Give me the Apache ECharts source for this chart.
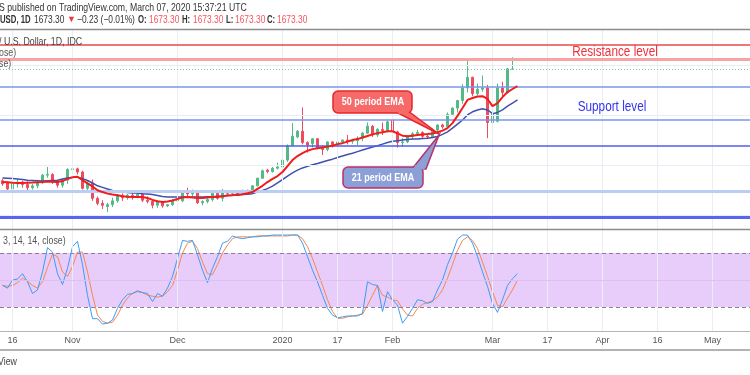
<!DOCTYPE html>
<html><head><meta charset="utf-8">
<script src="https://cdn.jsdelivr.net/npm/echarts@6/dist/echarts.min.js"></script>
<style>html,body{margin:0;padding:0;background:#fff}#c{width:750px;height:375px}</style>
</head><body><div id="c"></div>
<script>
const FONT = "'Liberation Sans',Arial,sans-serif";

// ---- data ----
const startDate = '2019-10-14';
const categoryCount = 150;
const holidays = ['2019-12-25', '2020-01-01'];
const tickLabels = [['2019-10-16','16'],['2019-11-01','Nov'],['2019-12-02','Dec'],['2020-01-02','2020'],['2020-01-17','17'],['2020-02-03','Feb'],['2020-03-02','Mar'],['2020-03-17','17'],['2020-04-01','Apr'],['2020-04-16','16'],['2020-05-01','May']];

const openP  = [1495,1492,1482,1490,1493,1489,1484,1487,1492,1504, 1505,1493,1488,1496,1513,1514,1509,1483,1491,1467, 1459,1454,1457,1463,1472,1468,1472,1471,1474,1464, 1462,1456,1462,1455,1457,1463,1463,1477,1474,1477, 1460,1462,1465,1475,1467,1476,1475,1476,1475,1479, 1478,1487,1499,1512,1510,1515,1517,1528,1551,1565, 1574,1556,1554,1562,1547,1545,1557,1552,1557,1560, 1558,1559,1563,1571,1582,1568,1577,1575,1592,1573, 1556,1557,1566,1570,1572,1566,1565,1576,1584,1581, 1601,1611,1623,1643,1660,1634,1641,1643,1588,1590, 1643,1636,1673.2];
const highP  = [1498,1494,1495,1498,1495,1494,1490,1495,1506,1517, 1507,1495,1499,1515,1517,1516,1511,1494,1497,1470, 1464,1460,1468,1474,1475,1474,1476,1478,1476,1470, 1463,1464,1462,1458,1466,1466,1479,1484,1481,1479, 1464,1467,1477,1479,1482,1478,1479,1478,1481,1481, 1488,1500,1513,1514,1517,1524,1530,1553,1587,1576, 1612,1558,1563,1563,1551,1558,1558,1561,1561,1568, 1562,1566,1573,1588,1584,1579,1588,1591,1596,1575, 1563,1568,1573,1576,1574,1570,1578,1585,1586,1604, 1612,1624,1649,1689,1661,1650,1663,1648,1610,1650, 1653,1675,1692];
const lowP   = [1487,1480,1480,1484,1484,1480,1481,1483,1490,1500, 1490,1484,1484,1490,1505,1505,1481,1479,1463,1456, 1450,1445,1453,1460,1463,1465,1465,1467,1461,1459, 1451,1452,1452,1453,1455,1454,1461,1470,1470,1458, 1456,1459,1462,1465,1462,1472,1472,1472,1472,1474, 1476,1486,1499,1507,1508,1513,1515,1525,1551,1563, 1553,1540,1548,1546,1536,1542,1548,1548,1555,1553, 1554,1552,1558,1570,1565,1565,1568,1572,1552,1548, 1549,1555,1561,1567,1562,1562,1563,1572,1578,1580, 1598,1604,1618,1636,1630,1631,1637,1563,1576,1588, 1630,1634,1673.2];
const closeP = [1490,1482,1490,1493,1489,1484,1487,1492,1504,1505, 1493,1488,1496,1513,1514,1509,1483,1491,1467,1459, 1456,1457,1463,1472,1468,1472,1471,1474,1464,1462, 1456,1462,1455,1457,1463,1464,1477,1474,1477,1460, 1462,1465,1475,1467,1476,1475,1476,1475,1479,1478, 1487,1499,1511,1510,1515,1517,1528,1551,1566,1574, 1556,1552,1562,1547,1545,1557,1552,1557,1560,1558, 1559,1563,1571,1582,1568,1577,1575,1589,1573,1556, 1557,1566,1570,1572,1566,1565,1576,1584,1581,1601, 1611,1623,1643,1660,1634,1641,1643,1588,1601,1643, 1636,1673.5,1673.3];

const ema50 = [1493,1492.6,1492,1491.5,1491.5,1492,1492.3,1492.8,1493,1494, 1493.5,1493,1494.5,1498,1500.5,1501.5,1496,1491,1486,1480, 1477,1474.5,1473,1472,1470.5,1469.5,1469,1469,1469,1467.5, 1464.5,1462.5,1461,1462,1463.5,1466,1468.5,1469,1468.5,1467.5, 1467.5,1468.5,1469,1469,1470.5,1471.5,1472,1473,1473.5,1475, 1477,1482,1487,1493,1498,1502.5,1509,1518.5,1528,1534.5, 1539,1543,1545.5,1547,1548,1549.5,1551,1553.5,1555,1557.5, 1560,1561.5,1564,1566.5,1569,1571,1572.5,1574,1574,1570.5, 1567,1566,1567,1568,1569,1569.5,1570.5,1572.5,1575,1579, 1587,1598.5,1611,1624,1627,1629.5,1630,1625.5,1614,1619, 1628.5,1636.5,1641.4,1646];
const ema21 = [1499.5,1499,1498.5,1498,1497,1496,1495.5,1495,1494.5,1495, 1495.5,1496,1498,1499.5,1500.5,1500.5,1498.5,1495.5,1491.5,1487, 1484.5,1482,1479.5,1478,1477,1476.5,1475.5,1475.5,1474.5,1474, 1473,1471.5,1470,1469,1469,1469,1469,1469,1469,1469, 1469,1469.5,1469.5,1470.5,1470.5,1471.5,1472,1472,1473,1473.5, 1474.5,1477,1479.5,1482.5,1486.5,1491.5,1497,1502.5,1507.5,1512, 1515.5,1518,1520.5,1522.5,1525,1527.5,1529.5,1532,1534.5,1537, 1539,1541.5,1544,1546.5,1549,1551,1553.5,1556,1558,1559, 1560,1561,1561.5,1561.5,1562.5,1563,1564,1565.5,1569,1573, 1579,1585.5,1592,1600,1605,1608,1610,1608,1602,1604, 1608,1614,1619,1624];

const stochK = [44,41,50,51,57,48,35,39,59,86, 81,57,45,63,87,93,67,33,7,7, 1,2,5.5,18.5,28,34,35,38,36,35, 26,35,32,41,54,74,94,93,94,78, 61,47,63,76,91,93,99,97,96,97, 98,98,99,99,100,100,100,100,100,100, 91,76,61,48,33,18.5,11,8,9,10, 10,10,13,48,45,44,15,37,28,22, 2,9.6,18.5,28,27,24,26,39,50,67, 80,95.5,100,100,91,76,59,43,24,14, 28,44,51.5,57];
const stochD = [44,43,44,47,52,48.5,44,41,48,64, 78.5,76,59,54,65,81,81,59,33,11, 4,2,3,11,22,30,35,37,36,33, 32,31,32,37,44,61,80,91,93,85, 70,57,56,67,80,89,96,98,98,98, 98,99,99,99,99,99,99,99,100,100, 96,87,74,59,44,28,15,7.4,7.4,9, 10,11,12,22,33,44,33,31,28,27, 17.8,11,10,18.5,23,25,27,31,39,52, 67,83,94,98,94,85,70,54,37,22, 20,30,39,50];

const resistanceLevels = [1711.6, 1689.2];
const lastPrice = 1673.3;
const supportLevels = [1644.6, 1592, 1550.5, 1478.7, 1437.3];
const priceGrid = [1440, 1520, 1600, 1680];
const stochBand = [20, 80];
const stochMid = 50;

// ---- build ----
function tradingDays(start, n, skip) {
  const out = []; const d = new Date(start + 'T00:00:00Z');
  while (out.length < n) {
    const wd = d.getUTCDay(); const s = d.toISOString().slice(0, 10);
    if (wd !== 0 && wd !== 6 && skip.indexOf(s) < 0) out.push(s);
    d.setUTCDate(d.getUTCDate() + 1);
  }
  return out;
}
const dates = tradingDays(startDate, categoryCount, holidays);
const candleData = openP.map((o, i) => [o, closeP[i], lowP[i], highP[i]]);
const tickMap = {}; tickLabels.forEach(t => tickMap[t[0]] = t[1]);
const tickIdx = new Set(tickLabels.map(t => dates.indexOf(t[0])));
const vLines = tickLabels.map(t => ({ xAxis: t[0] }));

const levelStyles = {
  r0: { color: '#e84848', width: 1.5 },
  r1: { color: '#f7a3a3', width: 3 },
  s: [{ color: '#7a96ee', width: 1.5 }, { color: '#7a96ee', width: 1.5 }, { color: '#4e5ef0', width: 1.5 }, { color: '#bccdf4', width: 3 }, { color: '#5666f0', width: 3 }]
};
const levelLines = [
  { yAxis: resistanceLevels[0], lineStyle: Object.assign({ type: 'solid' }, levelStyles.r0) },
  { yAxis: resistanceLevels[1], lineStyle: Object.assign({ type: 'solid' }, levelStyles.r1) },
  { yAxis: lastPrice, lineStyle: { color: '#7cc8a0', width: 1, type: [1, 2] } }
].concat(supportLevels.map((v, i) => ({ yAxis: v, lineStyle: Object.assign({ type: 'solid' }, levelStyles.s[i]) })));

function txt(x, y, text, opt, sx, z) {
  return { type: 'text', x: x, y: y, z: z || 50, silent: true, scaleX: sx || 0.8,
    style: Object.assign({ text: text, fontFamily: FONT, fontSize: 11, fill: '#444', textVerticalAlign: 'middle', textAlign: 'left' }, opt || {}) };
}
function hline(y, color, w) {
  return { type: 'line', z: 40, silent: true, shape: { x1: 0, y1: y, x2: 750, y2: y }, style: { stroke: color, lineWidth: w } };
}
const H2 = { fill: '#333', fontSize: 10.5 };
const H2B = { fill: '#333', fontSize: 10.5, fontWeight: 'bold' };
const H2R = { fill: '#f7525f', fontSize: 10.5 };

const graphics = [
  hline(29.5, '#8c8c8c', 1.5), hline(229.5, '#8c8c8c', 1.5), hline(331.5, '#b5b5b5', 1), hline(350, '#9a9a9a', 1.5),
  txt(-1, 7.5, 'S published on TradingView.com, March 07, 2020 15:37:21 UTC', { fill: '#333' }, 0.79),
  txt(0, 20, 'USD, 1D', H2B, 0.74),
  txt(34, 20, '1673.30', H2, 0.8),
  txt(67, 20, '\u25BC', { fill: '#f23645', fontSize: 9 }, 1),
  txt(77, 20, '\u22120.23 (\u22120.01%)', H2, 0.8),
  txt(138, 20, 'O:', H2B, 0.74), txt(149, 20, '1673.30', H2R, 0.8),
  txt(182, 20, 'H:', H2B, 0.74), txt(193, 20, '1673.30', H2R, 0.8),
  txt(226, 20, 'L:', H2B, 0.74), txt(235, 20, '1673.30', H2R, 0.8),
  txt(267, 20, 'C:', H2B, 0.74), txt(277, 20, '1673.30', H2R, 0.8),
  txt(-1, 41.5, '/ U.S. Dollar, 1D, IDC', { fill: '#444' }),
  txt(-1, 52.5, 'ose)', { fill: '#555' }),
  txt(-1, 64, 'se)', { fill: '#555' }),
  txt(3, 241, '3, 14, 14, close)', { fill: '#555' }),
  txt(-2, 362, 'View', { fill: '#444' }),
  txt(615, 52, 'Resistance level', { fill: '#f0303a', fontSize: 14, textAlign: 'center' }, 0.84),
  txt(612, 107, 'Support level', { fill: '#3434ee', fontSize: 14, textAlign: 'center' }, 0.84),
  // 50 period EMA callout
  { type: 'polygon', z: 60, silent: true, shape: { points: [[394, 111], [408, 111], [439, 134]] }, style: { fill: '#f76a6a', stroke: '#e8262b', lineWidth: 1.5 } },
  { type: 'rect', z: 61, silent: true, shape: { x: 333, y: 91, width: 79, height: 22, r: 5 }, style: { fill: '#f76a6a', stroke: '#e8262b', lineWidth: 1.5 } },
  { type: 'polygon', z: 62, silent: true, shape: { points: [[395.5, 110], [406.5, 110], [410, 114], [399, 114]] }, style: { fill: '#f76a6a' } },
  txt(373, 102, '50 period EMA', { fill: '#fff', fontWeight: 'bold', textAlign: 'center', fontSize: 11 }, 0.82, 70),
  // 21 period EMA callout
  { type: 'polygon', z: 60, silent: true, shape: { points: [[412, 169], [426, 169], [439, 135]] }, style: { fill: '#8c9fd6', stroke: '#b5326e', lineWidth: 1.5 } },
  { type: 'rect', z: 61, silent: true, shape: { x: 343, y: 167, width: 80, height: 21, r: 5 }, style: { fill: '#8c9fd6', stroke: '#b5326e', lineWidth: 1.5 } },
  { type: 'polygon', z: 62, silent: true, shape: { points: [[413.5, 169.5], [424.5, 169.5], [425, 165], [415, 165]] }, style: { fill: '#8c9fd6' } },
  txt(383, 177.5, '21 period EMA', { fill: '#fff', fontWeight: 'bold', textAlign: 'center', fontSize: 11 }, 0.82, 70)
];

const chart = echarts.init(document.getElementById('c'), null, { renderer: 'canvas' });
chart.setOption({
  animation: false,
  backgroundColor: '#ffffff',
  grid: [{ left: 0, width: 753, top: 30, height: 199 }, { left: 0, width: 753, top: 230, height: 101 }],
  xAxis: [
    { type: 'category', gridIndex: 0, data: dates, boundaryGap: true, axisLine: { show: false }, axisTick: { show: false }, axisLabel: { show: false }, splitLine: { show: false } },
    { type: 'category', gridIndex: 1, data: dates, boundaryGap: true, axisLine: { show: false }, axisTick: { show: false }, splitLine: { show: false },
      axisLabel: { interval: (i) => tickIdx.has(i), formatter: (v) => tickMap[v] || '', color: '#555', fontSize: 9, fontFamily: FONT, margin: 5 } }
  ],
  yAxis: [
    { type: 'value', gridIndex: 0, min: 1418.1, max: 1735.5, axisLine: { show: false }, axisTick: { show: false }, axisLabel: { show: false }, splitLine: { show: false } },
    { type: 'value', gridIndex: 1, min: -6.7, max: 105.6, axisLine: { show: false }, axisTick: { show: false }, axisLabel: { show: false }, splitLine: { show: false } }
  ],
  series: [
    { type: 'line', xAxisIndex: 0, yAxisIndex: 0, data: [], silent: true, z: 1,
      markLine: { symbol: 'none', silent: true, animation: false, label: { show: false }, lineStyle: { color: '#e8eef4', width: 1, type: 'solid' },
        data: vLines.concat(priceGrid.map(v => ({ yAxis: v }))) } },
    { type: 'line', xAxisIndex: 0, yAxisIndex: 0, data: [], silent: true, z: 2,
      markLine: { symbol: 'none', silent: true, animation: false, label: { show: false }, data: levelLines } },
    { type: 'candlestick', name: 'XAUUSD', xAxisIndex: 0, yAxisIndex: 0, data: candleData, barWidth: 3, z: 3,
      itemStyle: { color: '#53b987', color0: '#eb4d5c', borderColor: '#53b987', borderColor0: '#eb4d5c', borderWidth: 1 } },
    { type: 'line', name: 'EMA 21', xAxisIndex: 0, yAxisIndex: 0, data: ema21, showSymbol: false, z: 4, lineStyle: { color: '#4050ad', width: 1.5 } },
    { type: 'line', name: 'EMA 50', xAxisIndex: 0, yAxisIndex: 0, data: ema50, showSymbol: false, z: 5, lineStyle: { color: '#f21c1c', width: 2 } },
    { type: 'line', xAxisIndex: 1, yAxisIndex: 1, data: [], silent: true, z: 1,
      markArea: { silent: true, itemStyle: { color: '#e8cdfb' }, data: [[{ yAxis: stochBand[0] }, { yAxis: stochBand[1] }]] },
      markLine: { symbol: 'none', silent: true, animation: false, label: { show: false },
        data: vLines.map(v => Object.assign({ lineStyle: { color: '#e8eef4', width: 1, type: 'solid' } }, v)).concat([
          { yAxis: stochMid, lineStyle: { color: '#dcc0f2', width: 1, type: 'solid' } },
          { yAxis: stochBand[0], lineStyle: { color: '#8c7f96', width: 1, type: [4, 3] } },
          { yAxis: stochBand[1], lineStyle: { color: '#8c7f96', width: 1, type: [4, 3] } }]) } },
    { type: 'line', name: '%D', xAxisIndex: 1, yAxisIndex: 1, data: stochD, showSymbol: false, z: 3, lineStyle: { color: '#f5874f', width: 1 } },
    { type: 'line', name: '%K', xAxisIndex: 1, yAxisIndex: 1, data: stochK, showSymbol: false, z: 4, lineStyle: { color: '#3d9cf5', width: 1 } }
  ],
  graphic: graphics
});
</script></body></html>
